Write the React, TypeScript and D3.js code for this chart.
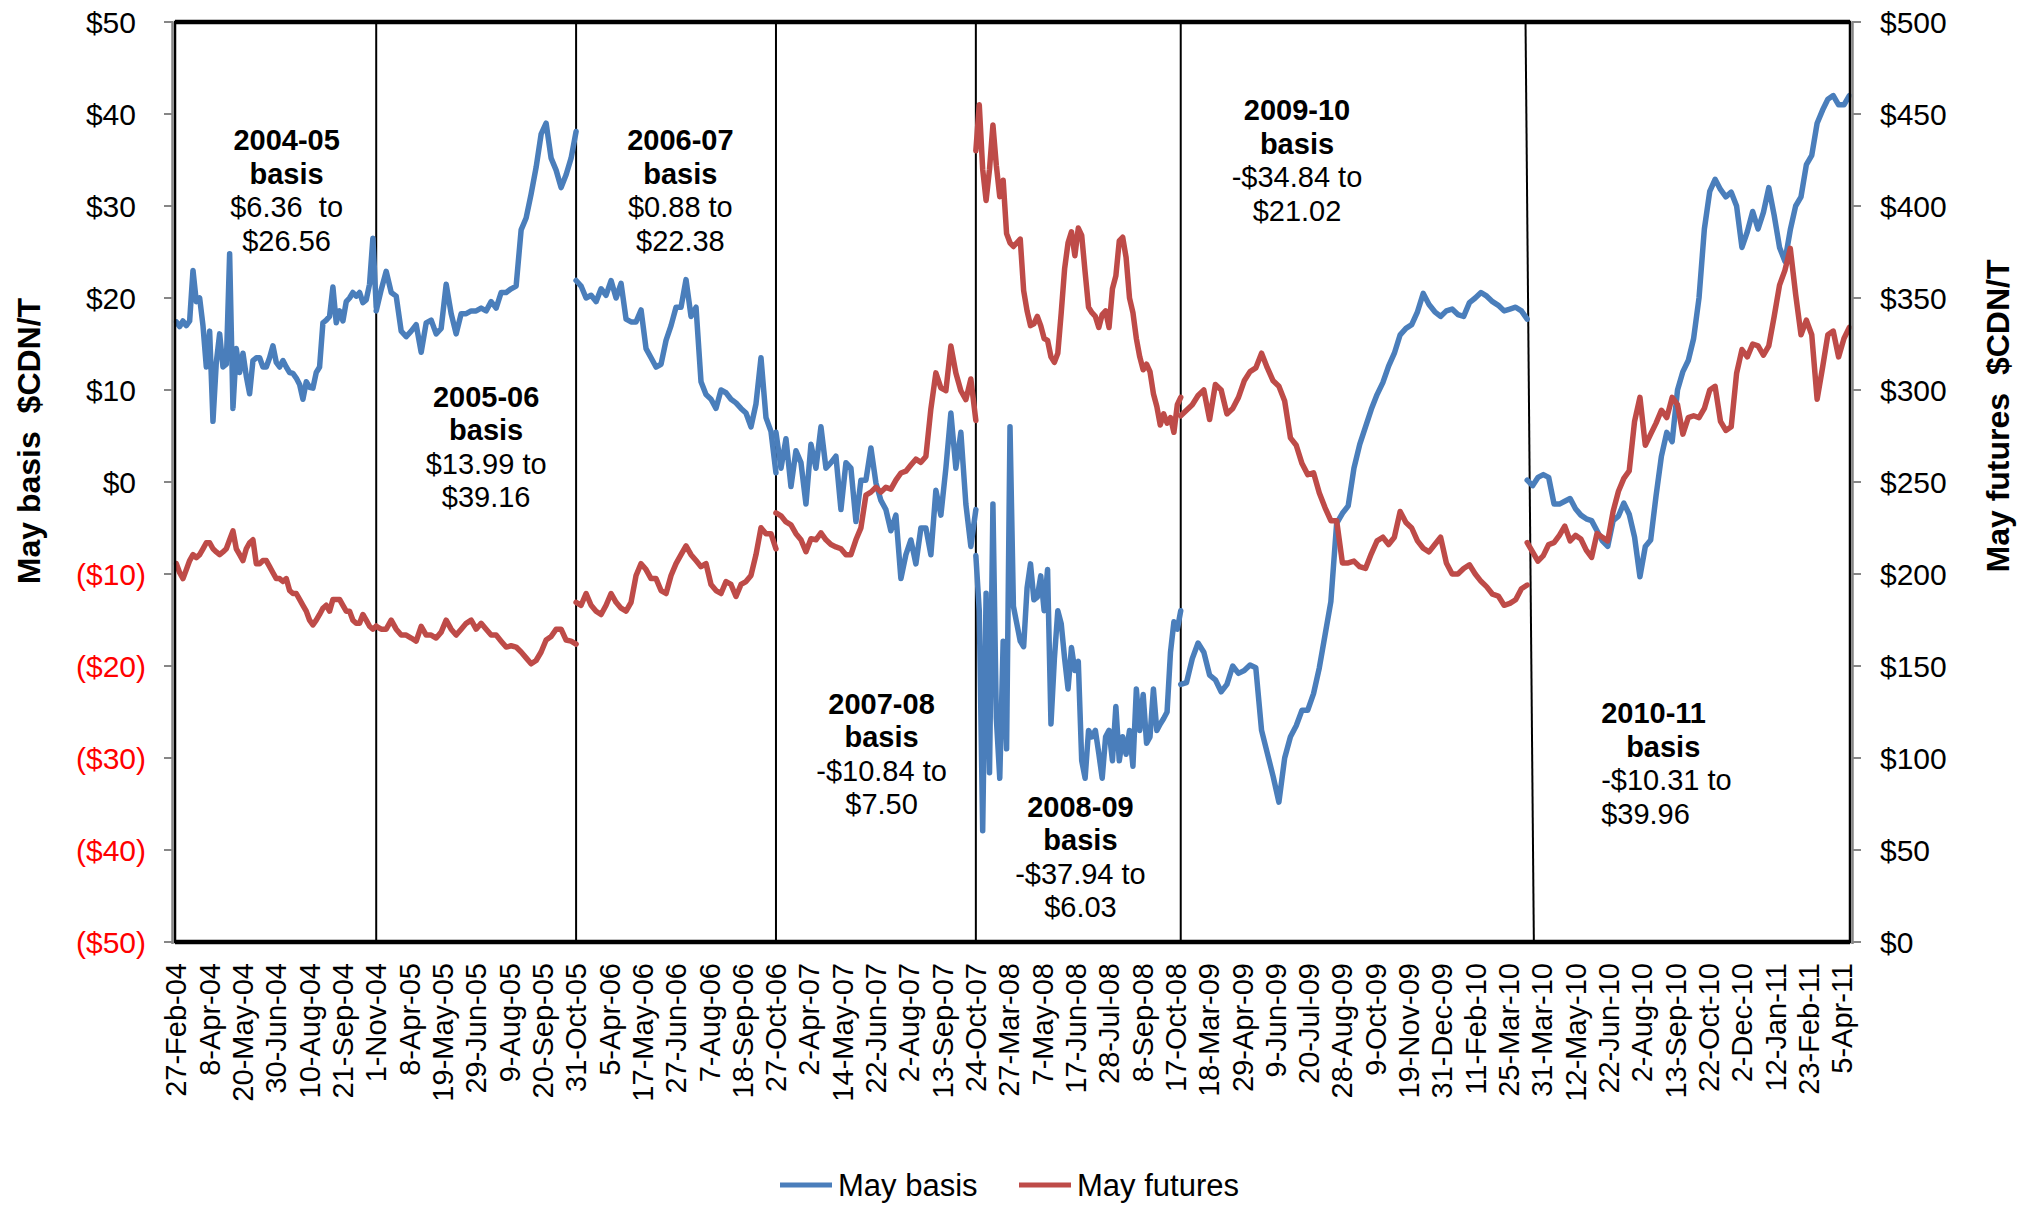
import React, { useEffect, useRef } from "react";
import * as d3 from "d3";

const W = 2028;
const H = 1206;
const plotLeft = 175;
const plotRight = 1850;
const plotTop = 22;
const plotBottom = 942;

const FONT = "'Liberation Sans', Arial, sans-serif";
const BLUE = "#4A7EBB";
const RED = "#BE4B48";

// category labels, one every ~29 trading days
const dateLabels = [
  "27-Feb-04", "8-Apr-04", "20-May-04", "30-Jun-04", "10-Aug-04", "21-Sep-04", "1-Nov-04",
  "8-Apr-05", "19-May-05", "29-Jun-05", "9-Aug-05", "20-Sep-05", "31-Oct-05",
  "5-Apr-06", "17-May-06", "27-Jun-06", "7-Aug-06", "18-Sep-06", "27-Oct-06",
  "2-Apr-07", "14-May-07", "22-Jun-07", "2-Aug-07", "13-Sep-07", "24-Oct-07",
  "27-Mar-08", "7-May-08", "17-Jun-08", "28-Jul-08", "8-Sep-08", "17-Oct-08",
  "18-Mar-09", "29-Apr-09", "9-Jun-09", "20-Jul-09", "28-Aug-09", "9-Oct-09",
  "19-Nov-09", "31-Dec-09", "11-Feb-10", "25-Mar-10", "31-Mar-10", "12-May-10",
  "22-Jun-10", "2-Aug-10", "13-Sep-10", "22-Oct-10", "2-Dec-10", "12-Jan-11",
  "23-Feb-11", "5-Apr-11",
];

const basis0405 = [17.4, 16.9, 17.5, 17.0, 17.5, 23.0, 19.6, 20.0, 17.0, 12.5, 16.4, 6.6, 13.0, 16.1, 12.5, 12.8, 24.8, 8.0, 14.5, 11.9, 14.0, 11.5, 9.6, 13.2, 13.5, 13.5, 12.5, 12.5, 13.5, 14.8, 13.0, 12.5, 13.2, 12.5, 11.9, 11.8, 11.3, 10.6, 9.0, 10.9, 10.3, 10.2, 11.9, 12.5, 17.3, 17.6, 18.0, 21.2, 17.3, 18.6, 17.5, 19.6, 20.0, 20.6, 20.2, 20.6, 19.5, 19.8, 21.5, 26.5, 19.0];
const basis0506 = [18.6, 20.9, 22.9, 20.6, 20.2, 16.4, 15.8, 16.4, 17.1, 14.1, 17.3, 17.6, 16.1, 16.7, 21.5, 18.3, 16.1, 18.3, 18.3, 18.6, 18.6, 18.9, 18.6, 19.6, 18.9, 20.6, 20.6, 21.0, 21.3, 27.4, 28.7, 31.3, 34.2, 37.8, 39.0, 35.2, 33.9, 32.0, 33.4, 35.2, 38.1];
const basis0607 = [21.9, 21.3, 20.0, 20.3, 19.6, 21.0, 20.3, 21.9, 20.0, 21.6, 17.7, 17.4, 17.4, 18.7, 14.5, 13.5, 12.5, 12.8, 15.4, 17.0, 19.0, 19.0, 22.0, 18.0, 19.0, 10.9, 9.5, 9.0, 8.0, 10.0, 9.7, 9.0, 8.6, 8.0, 7.5, 6.0, 8.5, 13.5, 7.0, 5.5, 1.0];
const basis0708 = [5.4, 1.5, 4.7, -0.5, 3.4, 2.1, -2.4, 4.1, 1.5, 6.0, 1.5, 2.1, 2.8, -3.0, 2.1, 1.5, -4.3, 0.2, 0.2, 3.7, -0.1, -2.0, -3.0, -5.3, -3.6, -10.5, -7.9, -6.3, -8.9, -5.0, -5.0, -7.9, -0.9, -3.6, 1.5, 7.5, 1.5, 5.4, -2.4, -7.0, -3.0];
const basis0809 = [-8.0, -14, -37.9, -12.1, -31.6, -2.4, -25.7, -32.2, -17.3, -29, 6.0, -13.5, -15.4, -17.3, -17.9, -11.5, -8.9, -12.8, -12.5, -10.2, -14, -9.5, -26.3, -19.2, -14, -15.4, -19.2, -22.5, -18, -20.5, -19.5, -30.3, -32.2, -27, -27.7, -27, -29.5, -32.2, -27.7, -27, -30.3, -24.4, -30.3, -27.7, -29.6, -27, -30.9, -22.5, -27, -23.1, -28.4, -27.7, -22.5, -27, -26.3, -25.7, -25.0, -18.5, -15.2, -16.0, -14.0];
const basis0910 = [-22.0, -21.8, -19.2, -17.5, -18.5, -21.0, -21.5, -22.8, -22.0, -20.0, -20.8, -20.5, -19.9, -20.2, -27.0, -29.5, -32.0, -34.8, -30.0, -27.7, -26.5, -24.8, -24.8, -23.0, -20.2, -16.6, -13.0, -4.5, -3.4, -2.6, 1.5, 4.1, 6.0, 7.9, 9.5, 10.8, 12.6, 14.0, 16.0, 16.7, 17.1, 18.5, 20.5, 19.3, 18.5, 18.0, 18.6, 18.8, 18.2, 18.0, 19.5, 20.0, 20.6, 20.2, 19.6, 19.2, 18.6, 18.8, 19.0, 18.6, 17.7];
const basis1011 = [0.2, -0.4, 0.5, 0.8, 0.5, -2.4, -2.4, -2.1, -1.8, -2.9, -3.6, -4.0, -4.2, -5.3, -6.4, -7.0, -4.2, -3.7, -2.3, -3.5, -6.0, -10.3, -7.0, -6.3, -1.5, 2.8, 5.4, 4.4, 10.0, 12.0, 13.2, 15.6, 20.0, 27.5, 31.6, 32.9, 31.8, 31.0, 31.5, 30.0, 25.5, 27.2, 29.4, 27.5, 29.3, 32.0, 29.0, 25.5, 24.0, 27.4, 30.0, 31.0, 34.5, 35.5, 39.0, 40.4, 41.6, 42.0, 41.0, 41.0, 42.0];

// May futures ($CDN/T, right axis)
const futures0405 = [205.6, 200.7, 197.5, 202.4, 207.3, 210.5, 208.9, 210.5, 213.7, 217, 217, 213.7, 212, 210.5, 212, 213.7, 218.6, 223.4, 213.7, 210.5, 207.3, 213.7, 217, 218.6, 205.6, 205.6, 207.3, 207.3, 204, 200.7, 197.5, 197.5, 195.9, 197.5, 191, 189.4, 189.4, 186.2, 183, 179.8, 174.9, 172.3, 174.9, 178, 181.4, 183, 179.8, 186.2, 186.2, 186.2, 183, 179.8, 179.8, 174.9, 173.2, 173.2, 178, 174.9, 171.6, 170, 171.6];
const futures0506 = [171.6, 170, 170, 174.9, 170, 166.8, 166.8, 165.2, 163.5, 171.6, 166.8, 166.8, 165.2, 168.4, 174.9, 170, 166.8, 170, 173.2, 174.9, 170, 173.2, 170, 166.8, 166.8, 163.5, 160.3, 161, 160.3, 157.6, 154.4, 151.2, 153, 157.6, 164.1, 166, 170, 170, 164.1, 163.5, 161.9];
const futures0607 = [184.6, 183, 189.4, 183, 179.8, 178, 183, 189.4, 184.6, 181.4, 179.8, 184.6, 199.2, 205.6, 202.4, 197.5, 197.5, 191, 189.4, 199.2, 205.6, 210.5, 215.3, 210.5, 207.3, 204, 205.6, 194.3, 191, 189.4, 195.9, 194.3, 187.8, 194.3, 195.9, 199.2, 210.5, 225.1, 221.9, 221.9, 213.7];
const futures0708 = [233.2, 231.6, 228.3, 226.7, 221.9, 218.6, 212.1, 219.2, 218.6, 222.4, 218.6, 216, 214.7, 213.7, 210.5, 210.5, 218.6, 225.1, 242.9, 244.5, 247.1, 244.5, 247.1, 246.1, 251, 254.9, 255.9, 259.2, 262.4, 260.7, 263.9, 289.8, 309.3, 301.2, 299.6, 323.9, 309.3, 299.6, 294.8, 306, 283.4];
const futures0809 = [430, 455, 420, 403, 420, 444, 422, 405, 414, 385, 380, 378, 380, 382, 354, 343, 335, 336, 340, 335, 328, 327, 318, 315, 320, 342, 366, 380, 386, 373, 388, 384, 364, 345, 342, 340, 334, 341, 343, 334, 355, 362, 381, 383, 372, 350, 342, 328, 318, 311, 314, 310, 298, 291, 281, 287, 282, 285, 277, 292, 296];
const futures0910 = [286, 289, 292, 297, 300, 284, 303, 300, 287, 290, 296, 305, 310, 312, 320, 312, 305, 302, 294, 274, 270, 260, 254, 255, 244, 236, 229, 229, 206, 206, 207, 204, 203, 211, 218, 220, 216, 220, 234, 228, 225, 218, 214, 212, 216, 220, 206, 200, 200, 203, 205, 200, 196, 193, 189, 188, 183, 184, 186, 192, 194];
const futures1011 = [217, 212, 207, 210, 216, 217, 221, 226, 218, 221, 219, 213, 209, 222, 220, 218, 234, 245, 252, 256, 283, 296, 270, 276, 282, 289, 285, 296, 292, 276, 285, 286, 285, 290, 300, 302, 283, 278, 280, 309, 322, 318, 325, 324, 319, 324, 340, 357, 365, 377, 352, 330, 338, 330, 295, 312, 330, 332, 318, 328, 334];

// season spans, in category-label units
const seasonNames = ["2004-05", "2005-06", "2006-07", "2007-08", "2008-09", "2009-10", "2010-11"];
const seasonStart = [0, 6, 12, 18, 24, 30.15, 40.55];
const seasonEnd = [6, 12, 18, 24, 30.15, 40.55, 50.22];
const separatorTop = [6, 12, 18, 24, 30.15, 40.5];
const separatorBottom = [6, 12, 18, 24, 30.15, 40.75];

// text boxes: anchor in data units (label index, basis $)
const noteRanges = [
  ["$6.36  to", "$26.56"],
  ["$13.99 to", "$39.16"],
  ["$0.88 to", "$22.38"],
  ["-$10.84 to", "$7.50"],
  ["-$37.94 to", "$6.03"],
  ["-$34.84 to", "$21.02"],
  ["-$10.31 to", "$39.96"],
];
const noteX = [3.31, 9.3, 15.13, 21.17, 27.14, 33.64, 42.77];
const noteY = [37.15, 9.3, 37.15, -24.1, -35.3, 40.4, -25.1];
const noteAnchor = ["middle", "middle", "middle", "middle", "middle", "middle", "start"];

const leftTicks = d3.range(-50, 51, 10);
const rightTicks = d3.range(0, 501, 50);

const seasons = seasonNames.map((name, i) => ({
  name,
  start: seasonStart[i],
  end: seasonEnd[i],
  basis: [basis0405, basis0506, basis0607, basis0708, basis0809, basis0910, basis1011][i],
  futures: [futures0405, futures0506, futures0607, futures0708, futures0809, futures0910, futures1011][i],
}));

const App: React.FC = () => {
  const ref = useRef<SVGSVGElement>(null);

  useEffect(() => {
    const svg = d3.select(ref.current);
    svg.selectAll("*").remove();

    const x = d3.scaleLinear().domain([-0.04, 50.24]).range([plotLeft, plotRight]);
    const yL = d3.scaleLinear().domain([-50, 50]).range([plotBottom, plotTop]);
    const yR = d3.scaleLinear().domain([0, 500]).range([plotBottom, plotTop]);

    svg.append("rect").attr("width", W).attr("height", H).attr("fill", "#fff");

    // season separators
    svg.append("g")
      .selectAll("line")
      .data(separatorTop)
      .enter()
      .append("line")
      .attr("x1", (d) => x(d))
      .attr("x2", (d, i) => x(separatorBottom[i]))
      .attr("y1", plotTop)
      .attr("y2", plotBottom)
      .attr("stroke", "#000")
      .attr("stroke-width", 2);

    const pos = (s: { start: number; end: number }, i: number, n: number) =>
      x(s.start + ((s.end - s.start) * i) / (n - 1));

    const lines = svg.append("g").attr("fill", "none").attr("stroke-width", 5.5)
      .attr("stroke-linejoin", "round").attr("stroke-linecap", "round");

    seasons.forEach((s) => {
      const basisLine = d3.line<number>()
        .x((d, i) => pos(s, i, s.basis.length))
        .y((d) => yL(d));
      lines.append("path").attr("d", basisLine(s.basis) || "").attr("stroke", BLUE);
    });
    seasons.forEach((s) => {
      const futLine = d3.line<number>()
        .x((d, i) => pos(s, i, s.futures.length))
        .y((d) => yR(d));
      lines.append("path").attr("d", futLine(s.futures) || "").attr("stroke", RED);
    });

    // plot frame and axes
    svg.append("rect")
      .attr("x", plotLeft).attr("y", plotTop)
      .attr("width", plotRight - plotLeft).attr("height", plotBottom - plotTop)
      .attr("fill", "none").attr("stroke", "#000").attr("stroke-width", 2.5);
    [plotTop, plotBottom].forEach((yy) =>
      svg.append("line").attr("x1", plotLeft).attr("x2", plotRight)
        .attr("y1", yy).attr("y2", yy).attr("stroke", "#000").attr("stroke-width", 4.5));
    [plotLeft - 2.5, plotRight + 2.5].forEach((xx) =>
      svg.append("line").attr("x1", xx).attr("x2", xx)
        .attr("y1", plotTop).attr("y2", plotBottom + 2).attr("stroke", "#868686").attr("stroke-width", 2.5));

    const lg = svg.append("g");
    leftTicks.forEach((v) => {
      lg.append("line").attr("x1", plotLeft - 11).attr("x2", plotLeft - 2)
        .attr("y1", yL(v)).attr("y2", yL(v)).attr("stroke", "#868686").attr("stroke-width", 2);
      lg.append("text")
        .attr("x", v < 0 ? 146 : 136)
        .attr("y", yL(v))
        .attr("dy", "0.35em")
        .attr("text-anchor", "end")
        .attr("font-family", FONT)
        .attr("font-size", 30)
        .attr("fill", v < 0 ? "#FF0000" : "#000")
        .text(v < 0 ? `($${-v})` : `$${v}`);
    });

    const rg = svg.append("g");
    rightTicks.forEach((v) => {
      rg.append("line").attr("x1", plotRight + 2).attr("x2", plotRight + 11)
        .attr("y1", yR(v)).attr("y2", yR(v)).attr("stroke", "#868686").attr("stroke-width", 2);
      rg.append("text")
        .attr("x", 1880)
        .attr("y", yR(v))
        .attr("dy", "0.35em")
        .attr("font-family", FONT)
        .attr("font-size", 30)
        .text(`$${v}`);
    });

    // category labels
    svg.append("g")
      .selectAll("text")
      .data(dateLabels)
      .enter()
      .append("text")
      .attr("transform", (d, i) => `translate(${x(i)},963) rotate(-90)`)
      .attr("dy", "0.35em")
      .attr("text-anchor", "end")
      .attr("font-family", FONT)
      .attr("font-size", 29)
      .text((d) => d);

    // axis titles
    svg.append("text")
      .attr("transform", "translate(29,441) rotate(-90)")
      .attr("dy", "0.35em")
      .attr("text-anchor", "middle")
      .attr("font-family", FONT).attr("font-size", 32).attr("font-weight", "bold")
      .attr("xml:space", "preserve")
      .style("white-space", "pre")
      .text("May basis  $CDN/T");
    svg.append("text")
      .attr("transform", "translate(1998,416) rotate(-90)")
      .attr("dy", "0.35em")
      .attr("text-anchor", "middle")
      .attr("font-family", FONT).attr("font-size", 32).attr("font-weight", "bold")
      .attr("xml:space", "preserve")
      .style("white-space", "pre")
      .text("May futures  $CDN/T");

    // season notes
    const notes = svg.append("g").attr("font-family", FONT).attr("font-size", 29);
    seasons.forEach((s, i) => {
      const lines4 = [s.name, "basis", ...noteRanges[i]];
      lines4.forEach((t, j) => {
        // the last box is left-aligned, with "basis" indented under the title
        const dx = i === 6 && j === 1 ? 25 : 0;
        notes.append("text")
          .attr("x", x(noteX[i]) + dx)
          .attr("y", yL(noteY[i]) + j * 33.5)
          .attr("dy", "0.35em")
          .attr("text-anchor", noteAnchor[i])
          .attr("font-weight", j < 2 ? "bold" : "normal")
          .attr("xml:space", "preserve")
          .style("white-space", "pre")
          .text(t);
      });
    });

    // legend
    const legend = svg.append("g").attr("font-family", FONT).attr("font-size", 31);
    [
      { label: "May basis", color: BLUE, x0: 780 },
      { label: "May futures", color: RED, x0: 1019 },
    ].forEach((l) => {
      legend.append("line").attr("x1", l.x0).attr("x2", l.x0 + 52)
        .attr("y1", 1185).attr("y2", 1185)
        .attr("stroke", l.color).attr("stroke-width", 5);
      legend.append("text").attr("x", l.x0 + 58).attr("y", 1185).attr("dy", "0.35em").text(l.label);
    });
  }, []);

  return (
    <svg
      ref={ref}
      width={W}
      height={H}
      style={{ position: "absolute", left: 0, top: 0, display: "block" }}
    />
  );
};

export default App;
